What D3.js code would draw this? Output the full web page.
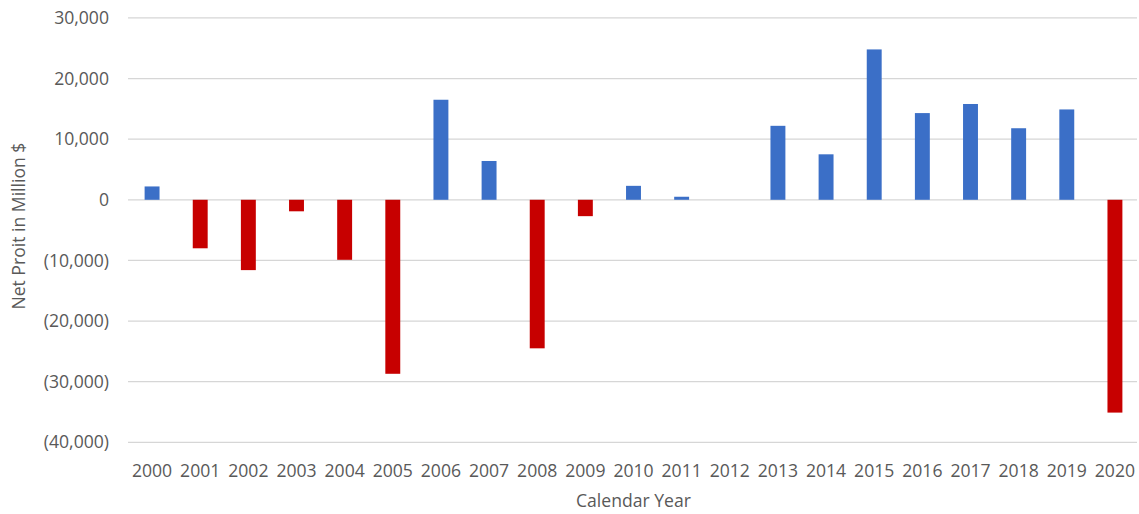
<!DOCTYPE html>
<html>
<head>
<meta charset="utf-8">
<script src="https://cdn.jsdelivr.net/npm/d3@7"></script>
<style>
  html, body { margin: 0; padding: 0; background: #fff; }
  svg { display: block; font-family: "Open Sans", sans-serif; }
</style>
</head>
<body>
<svg id="chart" width="1139" height="514"></svg>
<script>
// Annual net profit, million dollars
const years = ["2000","2001","2002","2003","2004","2005","2006","2007","2008","2009","2010",
               "2011","2012","2013","2014","2015","2016","2017","2018","2019","2020"];
const netProfit = [2200, -8000, -11600, -1900, -9900, -28700, 16500, 6400, -24500, -2700, 2300,
                   500, 0, 12200, 7500, 24800, 14300, 15800, 11800, 14900, -35100];
const yTicks = [30000, 20000, 10000, 0, -10000, -20000, -30000, -40000];

const svg = d3.select("#chart");
const plotLeft = 128, plotRight = 1139, plotTop = 17.9, plotBottom = 442.3;
const fontSize = 17.6;

const x = d3.scaleBand().domain(years).range([plotLeft, plotRight]).paddingInner(0.69).paddingOuter(0.345);
const y = d3.scaleLinear().domain([-40000, 30000]).range([plotBottom, plotTop]);

const fmt = v => {
  const s = d3.format(",")(Math.abs(v));
  return v < 0 ? "(" + s + ")" : s;
};

// gridlines
svg.append("g").selectAll("line").data(yTicks).join("line")
  .attr("x1", plotLeft).attr("x2", plotRight - 2)
  .attr("y1", d => y(d)).attr("y2", d => y(d))
  .attr("stroke", "#d6d6d6").attr("stroke-width", 1.3);

// y tick labels
svg.append("g").selectAll("text").data(yTicks).join("text")
  .attr("x", 109).attr("y", d => y(d)).attr("dy", "0.35em")
  .attr("text-anchor", "end").attr("font-size", fontSize).attr("fill", "#595959")
  .text(fmt);

// bars
svg.append("g").selectAll("rect").data(years.map((yr, i) => ({ yr, v: netProfit[i] }))).join("rect")
  .attr("x", d => x(d.yr)).attr("width", x.bandwidth())
  .attr("y", d => y(Math.max(0, d.v)))
  .attr("height", d => Math.abs(y(d.v) - y(0)))
  .attr("fill", d => d.v >= 0 ? "#3b6fc7" : "#c70000");

// x tick labels
svg.append("g").selectAll("text").data(years).join("text")
  .attr("x", d => x(d) + x.bandwidth() / 2).attr("y", 476.5)
  .attr("text-anchor", "middle").attr("font-size", fontSize).attr("fill", "#595959")
  .text(d => d);

// axis titles
svg.append("text")
  .attr("x", (plotLeft + plotRight) / 2).attr("y", 507)
  .attr("text-anchor", "middle").attr("font-size", fontSize).attr("fill", "#595959")
  .text("Calendar Year");

svg.append("text")
  .attr("transform", "translate(25," + ((plotTop + plotBottom) / 2 - 4) + ") rotate(-90)")
  .attr("text-anchor", "middle").attr("font-size", fontSize).attr("fill", "#595959")
  .text("Net Proit in Million $");
</script>
</body>
</html>
